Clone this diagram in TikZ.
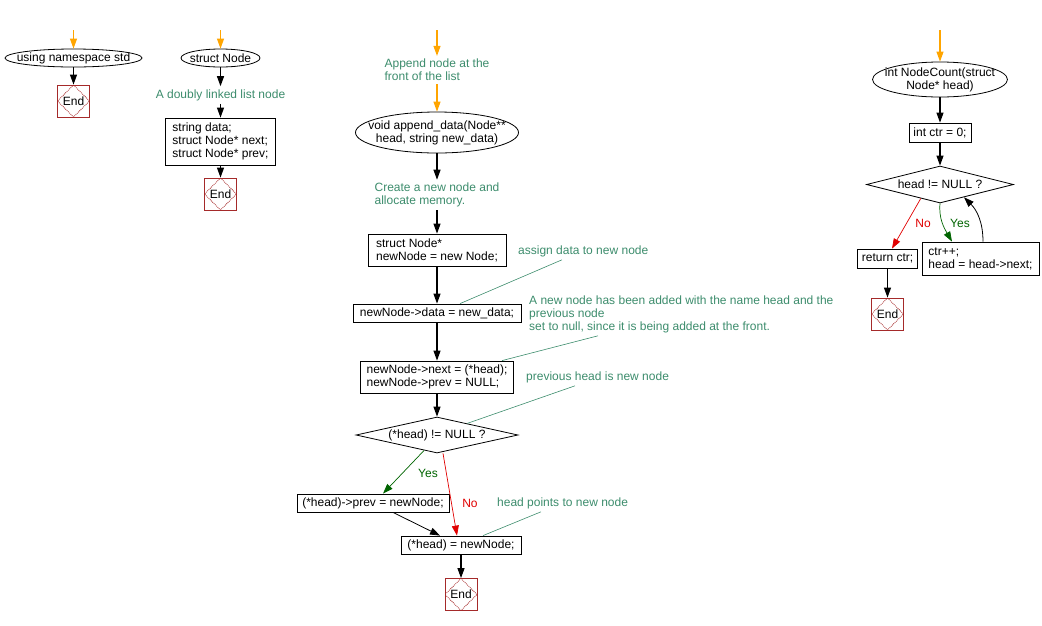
\documentclass[tikz,border=0pt]{standalone}
\usepackage{fontspec}
\setmainfont{Liberation Sans}
\usetikzlibrary{shapes.geometric,arrows.meta}
\definecolor{Note}{HTML}{3C8C6C}
\definecolor{EndRed}{HTML}{A52A2A}
\definecolor{Flow}{HTML}{FFA500}
\definecolor{YesGreen}{HTML}{006400}
\definecolor{NoRed}{HTML}{E00000}
\tikzset{
  box/.style={draw, line width=0.8pt, align=left, inner xsep=4pt, inner ysep=0pt},
  term/.style={ellipse, draw, line width=0.8pt, inner sep=0pt},
  cond/.style={diamond, draw, line width=0.8pt, inner sep=0pt},
  endbox/.style={draw=EndRed, line width=0.8pt, minimum size=32, inner sep=0pt,
    path picture={\draw[EndRed, densely dotted, line width=0.8pt]
      (path picture bounding box.north) -- (path picture bounding box.east) --
      (path picture bounding box.south) -- (path picture bounding box.west) -- cycle;}},
  note/.style={text=Note, align=left, inner sep=3pt},
  flow/.style={-{Triangle[length=10pt,width=7pt]}, line width=1.1pt},
  start/.style={flow, Flow},
  yes/.style={-{Triangle[length=10pt,width=7pt]}, YesGreen, line width=0.7pt},
  no/.style={-{Triangle[length=10pt,width=7pt]}, NoRed, line width=0.7pt},
  link/.style={Note, line width=0.6pt}
}

\begin{document}
\begin{tikzpicture}[x=1pt,y=1pt,font=\fontsize{12}{13}\selectfont]
  \useasboundingbox (0,0) rectangle (1042,-625);
  % using namespace std
  \coordinate (s1) at (73.5,-30);
  \node[term, minimum width=137, minimum height=18, label=center:{using namespace std}] (ns) at (73.5,-58) {};
  \node[endbox] (end1) at (73.5,-101) {End};
  \draw[start] (s1) -- (ns);
  \draw[flow] (ns) -- (end1);
  % struct Node
  \coordinate (s2) at (220.5,-30);
  \node[term, minimum width=79, minimum height=18, label=center:{struct Node}] (sn) at (220.5,-58) {};
  \node[note] (listnote) at (220.5,-95) {A doubly linked list node};
  \node[box, minimum width=110, minimum height=47] (fields) at (220.5,-141.5) {string data;\\struct Node* next;\\struct Node* prev;};
  \node[endbox] (end2) at (220.5,-194) {End};
  \draw[start] (s2) -- (sn);
  \draw[flow] (sn) -- (listnote);
  \draw[flow] (listnote) -- (fields);
  \draw[flow] (fields) -- (end2);
  % append_data
  \coordinate (s3) at (437,-30);
  \node[note] (appnote) at (437,-70) {Append node at the\\front of the list};
  \node[term, minimum width=163, minimum height=41, label={[align=center]center:{void append\_data(Node**\\head, string new\_data)}}] (app) at (437,-132.5) {};
  \node[note] (mknote) at (437,-195) {Create a new node and\\allocate memory.};
  \node[box, minimum width=138, minimum height=32] (alloc) at (437,-250) {struct Node*\\newNode = new Node;};
  \node[box, minimum width=168, minimum height=18] (setdata) at (437,-313) {newNode->data = new\_data;};
  \node[box, minimum width=153, minimum height=32] (setnext) at (437,-377) {newNode->next = (*head);\\newNode->prev = NULL;};
  \node[cond, minimum width=162, minimum height=36, label=center:{(*head) != NULL ?}] (ifhead) at (437,-435) {};
  \node[box, minimum width=152, minimum height=18] (setprev) at (373,-503) {(*head)->prev = newNode;};
  \node[box, minimum width=120, minimum height=18] (sethead) at (461,-545) {(*head) = newNode;};
  \node[endbox] (end3) at (461,-594.5) {End};
  \node[note, anchor=west] (assignnote) at (515,-251) {assign data to new node};
  \node[note, anchor=west] (addnote) at (526,-314) {A new node has been added with the name head and the\\previous node\\set to null, since it is being added at the front.};
  \node[note, anchor=west] (prevnote) at (523,-377) {previous head is new node};
  \node[note, anchor=west] (ptrnote) at (494,-503) {head points to new node};
  \node[text=YesGreen] (yes1) at (428,-473) {Yes};
  \node[text=NoRed] (no1) at (470,-503) {No};
  \draw[start] (s3) -- (appnote);
  \draw[start] (appnote) -- (app);
  \draw[flow] (app) -- (mknote);
  \draw[flow] (mknote) -- (alloc);
  \draw[flow] (alloc) -- (setdata);
  \draw[flow] (setdata) -- (setnext);
  \draw[flow] (setnext) -- (ifhead);
  \draw[yes] (ifhead.230) -- ([xshift=10]setprev.north);
  \draw[no] ([xshift=6]ifhead.south) -- ([xshift=-4]sethead.north);
  \draw[flow, line width=0.8pt] ([xshift=20]setprev.south) -- ([xshift=-21]sethead.north);
  \draw[flow] (sethead) -- (end3);
  \draw[link] ([xshift=47]assignnote.south west) -- ([xshift=23]setdata.north);
  \draw[link] ([xshift=72]addnote.south west) -- ([xshift=65]setnext.north);
  \draw[link] ([xshift=52]prevnote.south west) -- (ifhead.21);
  \draw[link] ([xshift=47]ptrnote.south west) -- ([xshift=22]sethead.north);
  % NodeCount
  \coordinate (s4) at (940,-30);
  \node[term, minimum width=135, minimum height=35, label={[align=center]center:{int NodeCount(struct\\Node* head)}}] (cnt) at (940,-79.5) {};
  \node[box, minimum width=62, minimum height=19] (init) at (940,-132.5) {int ctr = 0;};
  \node[cond, minimum width=147, minimum height=37, label=center:{head != NULL ?}] (ifnull) at (940,-184.5) {};
  \node[box, minimum width=117, minimum height=33] (advance) at (980.5,-258.5) {ctr++;\\head = head->next;};
  \node[box, minimum width=59, minimum height=19] (ret) at (887.5,-258.5) {return ctr;};
  \node[endbox] (end4) at (887.5,-314) {End};
  \node[text=NoRed] (no2) at (923,-223) {No};
  \node[text=YesGreen] (yes2) at (960,-223) {Yes};
  \draw[start] (s4) -- (cnt);
  \draw[flow] (cnt) -- (init);
  \draw[flow] (init) -- (ifnull);
  \draw[no] (ifnull.216) -- ([xshift=4.5]ret.north);
  \draw[yes] (ifnull.south) to[out=-95, in=120] ([xshift=-28.5]advance.north);
  \draw[flow, line width=0.8pt] ([xshift=2.5]advance.north) to[out=90, in=-45] (ifnull.-28);
  \draw[flow] (ret) -- (end4);
\end{tikzpicture}
\end{document}
